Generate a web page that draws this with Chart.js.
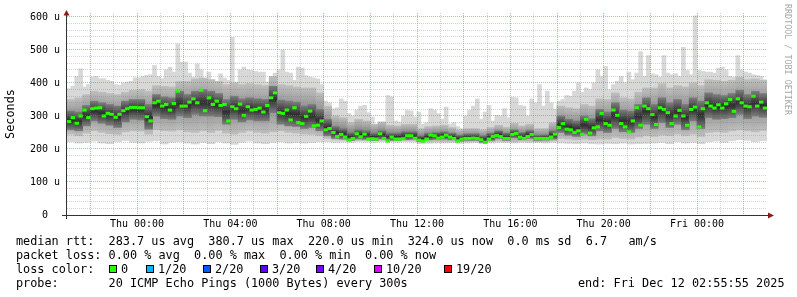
<!DOCTYPE html>
<html>
<head>
<meta charset="utf-8">
<title>SmokePing latency</title>
<script src="https://cdn.jsdelivr.net/npm/chart.js@4.4.1/dist/chart.umd.min.js"></script>
<style>
  html, body { margin:0; padding:0; background:#ffffff; }
  #wrap { position:relative; width:797px; height:297px; overflow:hidden; background:#ffffff; }
  #chart { position:absolute; left:0; top:0; }
  .lg { position:absolute; font-family:"DejaVu Sans Mono", monospace; font-size:11.83px; line-height:14px; white-space:pre; color:#000; }
  .sq { position:absolute; top:265px; width:6px; height:6px; border:1px solid #000; }
  #wm { position:absolute; left:783px; top:4px; writing-mode:vertical-rl; font-family:"DejaVu Sans Mono", monospace; font-size:8.4px; line-height:9px; color:#a8a8a8; white-space:pre; }
</style>
</head>
<body>
<div id="wrap">
  <canvas id="chart" width="797" height="297"></canvas>
  <div id="wm">RRDTOOL / TOBI OETIKER</div>
  <div class="lg" style="left:16px;top:234px">median rtt:  283.7 us avg  380.7 us max  220.0 us min  324.0 us now  0.0 ms sd  6.7   am/s</div>
  <div class="lg" style="left:16px;top:248px">packet loss: 0.00 % avg  0.00 % max  0.00 % min  0.00 % now</div>
  <div class="lg" style="left:16px;top:262px">loss color:</div>
  <div id="loss"></div>
  <div class="lg" style="left:16px;top:276px">probe:       20 ICMP Echo Pings (1000 Bytes) every 300s</div>
  <div class="lg" style="left:578px;top:276px">end: Fri Dec 12 02:55:55 2025</div>
</div>
<script>
// ---- time frame (hours relative to Thu 00:00) ----
const START_H = -3;      // Wed 21:00
const END_H = 27;        // Fri 03:00
const STEP10 = 1 / 6;    // 10-minute samples
const STEP20 = 1 / 3;    // 20-minute samples

// ---- tick labels ----
const xTickHours  = [0, 4, 8, 12, 16, 20, 24];
const xTickLabels = ['Thu 00:00','Thu 04:00','Thu 08:00','Thu 12:00','Thu 16:00','Thu 20:00','Fri 00:00'];
const yTickValues = [0, 100, 200, 300, 400, 500, 600];
const yTickLabels = ['0  ', '100 u', '200 u', '300 u', '400 u', '500 u', '600 u'];

// ---- loss colour legend ----
const lossLabels = ['0', '1/20', '2/20', '3/20', '4/20', '10/20', '19/20'];
const lossColors = ['#26ff00', '#00b8ff', '#0059ff', '#5e00ff', '#7e00ff', '#dd00ff', '#ff0000'];

// ---- median rtt, 10-minute steps (microseconds) ----
const median = [
  283,295,278,300,318,295,322,324,325,300, 308,305,296,305,316,322,326,326,325,325, 298,285,340,345,330,335,318,338,375,330,
  330,342,352,340,378,316,355,335,345,332, 335,285,328,322,336,302,328,318,320,324, 312,332,355,370,310,308,318,288,325,280,
  277,299,315,270,272,285,258,262,250,238, 244,236,227,232,246,237,245,230,231,230, 246,232,224,236,230,230,231,240,240,232,
  227,224,230,242,240,233,236,242,236,232, 224,230,232,232,233,232,228,220,230,238, 241,238,232,232,244,247,236,232,238,244,
  232,232,232,232,236,245,265,277,260,258, 250,255,244,290,248,264,267,308,277,272, 318,302,277,267,252,285,325,272,330,322,
  304,274,325,320,310,277,300,317,300,272, 320,327,267,322,340,330,324,334,324,337, 350,314,352,340,330,328,360,330,342,324
];

// ---- highest ping per 10-minute step (us) ----
const smokeHi = [
  383,390,420,443,388,395,418,420,413,413, 408,405,395,393,400,403,405,416,416,420, 423,425,453,420,413,440,448,433,518,463,
  463,430,418,458,440,408,433,410,393,428, 415,408,538,403,440,448,440,438,435,433, 433,403,400,430,440,500,433,430,408,448,
  445,422,418,415,412,395,345,340,322,325, 352,345,307,300,318,330,332,310,297,275, 270,280,362,358,285,282,300,317,315,297,
  312,275,280,322,318,307,290,327,275,280, 268,262,300,317,330,352,290,312,332,285, 302,300,322,295,357,355,332,330,300,352,
  340,395,330,375,340,320,345,350,362,360, 375,400,372,385,380,400,440,420,450,380, 395,405,420,400,433,410,430,495,420,483,
  428,425,418,483,430,425,428,420,508,438, 425,603,438,435,433,433,430,445,448,440, 420,418,483,440,433,430,425,423,420,410
];

// ---- 20-minute smoke bands (us) ----
const smokeLo = [
  222,218,220,224,218,216,222,226,220,218,223,225,215,220,222,
  218,215,220,216,222,218,214,220,224,218,216,220,222,218,220,
  218,220,222,222,220,221,220,222,221,220,222,221,220,222,221,
  216,217,218,218,219,217,218,219,216,218,220,219,218,220,219,
  219,218,220,218,217,216,218,216,215,217,216,218,215,216,217,
  218,220,216,222,218,220,216,222,224,220,225,228,226,222,225
];
const midLo = [
  245,240,248,255,250,246,244,252,255,254,245,258,255,254,258,
  252,250,255,250,256,248,245,250,255,250,248,252,255,250,248,
  245,244,240,232,228,227,225,226,226,225,226,225,225,226,226,
  221,222,223,222,223,221,222,223,220,222,224,223,222,224,223,
  222,222,224,232,230,228,230,228,230,230,235,232,230,236,240,
  238,242,240,245,240,245,238,250,252,250,255,258,255,252,256
];
const midHi = [
  350,355,365,375,372,368,365,372,378,380,375,392,390,388,405,
  405,412,415,410,405,395,400,395,398,395,392,420,395,392,388,
  385,385,370,330,300,295,280,290,285,275,282,272,270,275,275,
  262,268,270,272,265,258,262,262,258,265,272,266,278,270,275,
  262,262,280,330,325,322,335,330,352,350,370,355,352,372,385,
  385,398,385,392,388,400,392,410,408,405,408,418,410,412,408
];
const innerLo = [
  258,255,270,285,278,272,265,282,290,288,260,300,292,290,300,
  295,305,300,300,298,275,290,282,288,285,285,310,275,270,268,
  262,265,255,240,232,230,226,230,229,226,230,226,226,228,229,
  223,228,229,230,228,224,226,226,220,226,232,226,234,228,232,
  226,227,230,250,242,238,245,240,255,250,262,252,250,262,275,
  262,280,265,275,258,285,262,295,290,292,295,305,292,300,296
];
const innerHi = [
  315,312,332,345,340,335,330,345,350,350,335,365,358,355,375,
  365,375,380,375,368,350,360,352,355,352,350,390,348,345,342,
  330,335,320,290,268,262,250,258,255,248,255,248,248,252,252,
  240,248,250,252,248,242,246,246,240,248,255,248,258,250,256,
  242,243,255,300,290,285,300,292,320,312,340,318,315,335,355,
  335,355,340,350,335,355,345,370,365,362,368,378,365,375,368
];

// ---- legend squares (layout) ----
const lossX = [121, 158, 215, 272, 328, 386, 456];
const lossBox = document.getElementById('loss');
lossLabels.forEach((lab, k) => {
  const sq = document.createElement('div');
  sq.className = 'sq';
  sq.style.left = (lossX[k] - 12) + 'px';
  sq.style.background = lossColors[k];
  lossBox.appendChild(sq);
  const t = document.createElement('div');
  t.className = 'lg';
  t.style.left = lossX[k] + 'px';
  t.style.top = '262px';
  t.textContent = lab;
  lossBox.appendChild(t);
});

// ---- build library data ----
const x10 = i => START_H + (i + 0.5) * STEP10;
const x20 = j => START_H + (j + 0.5) * STEP20;
const outerData = smokeHi.map((hi, i) => ({ x: x10(i), y: [smokeLo[Math.floor(i / 2)], hi] }));
const midData = midLo.map((lo, j) => ({ x: x20(j), y: [lo, midHi[j]] }));
const innerData = innerLo.map((lo, j) => ({ x: x20(j), y: [lo, innerHi[j]] }));
const medData = median.map((v, i) => ({ x: x10(i), y: v }));

const MAJOR = 'rgba(228,70,70,0.5)';
const MINOR = 'rgba(130,130,130,0.35)';
const MONO = '"DejaVu Sans Mono", monospace';

// vertical shading of a smoke band: lighter at its edges, darker in its middle
const bandFill = (edge, core) => c => {
  const raw = c.raw;
  if (!raw || !Array.isArray(raw.y) || !c.chart.scales || !c.chart.scales.y) return edge;
  const ys = c.chart.scales.y;
  const p0 = ys.getPixelForValue(raw.y[0]);
  const p1 = ys.getPixelForValue(raw.y[1]);
  if (!isFinite(p0) || !isFinite(p1) || Math.abs(p0 - p1) < 1) return core;
  const g = c.chart.ctx.createLinearGradient(0, p0, 0, p1);
  g.addColorStop(0, edge);
  g.addColorStop(0.5, core);
  g.addColorStop(1, edge);
  return g;
};

const axisPlugin = {
  id: 'rrdAxes',
  afterDraw(chart) {
    const { ctx, chartArea: a } = chart;
    ctx.save();
    ctx.strokeStyle = '#333333';
    ctx.lineWidth = 1;
    ctx.beginPath();
    ctx.moveTo(a.left - 5, a.bottom + 0.5);
    ctx.lineTo(a.right + 2, a.bottom + 0.5);
    ctx.moveTo(a.left - 0.5, a.bottom + 4);
    ctx.lineTo(a.left - 0.5, a.top + 2);
    ctx.stroke();
    ctx.fillStyle = '#8b1a1a';
    ctx.beginPath();
    ctx.moveTo(a.right + 1, a.bottom - 2.5);
    ctx.lineTo(a.right + 7, a.bottom + 0.5);
    ctx.lineTo(a.right + 1, a.bottom + 3.5);
    ctx.closePath();
    ctx.fill();
    ctx.beginPath();
    ctx.moveTo(a.left - 3.5, a.top + 2.5);
    ctx.lineTo(a.left - 0.5, a.top - 3);
    ctx.lineTo(a.left + 2.5, a.top + 2.5);
    ctx.closePath();
    ctx.fill();
    ctx.restore();
  }
};

Chart.defaults.font.family = MONO;

new Chart(document.getElementById('chart'), {
  type: 'bar',
  data: {
    datasets: [
      { label: 'smoke outer', data: outerData, backgroundColor: '#d8d8d8', borderWidth: 0,
        barThickness: 4.0, grouped: false, order: 4, clip: 0 },
      { label: 'smoke mid', data: midData, backgroundColor: bandFill('#bebebe', '#8a8a8a'), borderWidth: 0,
        barThickness: 7.9, grouped: false, order: 3, clip: 0 },
      { label: 'smoke inner', data: innerData, backgroundColor: bandFill('#7c7c7c', '#2e2e2e'), borderWidth: 0,
        barThickness: 7.9, grouped: false, order: 2, clip: 0 },
      { type: 'line', label: 'median rtt', data: medData, showLine: false,
        pointStyle: 'line', pointRadius: 2.2, pointHoverRadius: 2.2, pointBorderWidth: 3,
        pointBorderColor: '#26ff00', pointBackgroundColor: '#26ff00', borderColor: '#26ff00',
        order: 1, clip: 0 }
    ]
  },
  options: {
    responsive: false,
    animation: false,
    events: [],
    layout: { padding: { left: 0, right: 30, top: 11, bottom: 0 } },
    plugins: { legend: { display: false }, tooltip: { enabled: false } },
    scales: {
      x: {
        type: 'linear', min: START_H, max: END_H, offset: false,
        afterBuildTicks: s => { const t = []; for (let h = START_H + 1; h < END_H; h++) t.push({ value: h }); s.ticks = t; },
        afterFit: s => { s.height = 82; },
        grid: { z: 1, offset: false, drawTicks: false, lineWidth: 1,
                color: c => (c.tick && c.tick.value % 2 === 0) ? MAJOR : MINOR },
        border: { display: false, dash: [1, 1] },
        ticks: { autoSkip: false, maxRotation: 0, minRotation: 0, padding: 3, color: '#000',
                 font: { family: MONO, size: 10 },
                 callback: v => { const k = xTickHours.indexOf(v); return k >= 0 ? xTickLabels[k] : ''; } }
      },
      y: {
        type: 'linear', min: 0, max: 612,
        afterBuildTicks: s => { const t = []; for (let v = 0; v <= 600; v += 20) t.push({ value: v }); s.ticks = t; },
        afterFit: s => { s.width = 67; },
        grid: { z: 1, drawTicks: false, lineWidth: 1,
                color: c => { const v = c.tick ? c.tick.value : 0; return v === 0 ? 'rgba(0,0,0,0)' : (v % 100 === 0 ? MAJOR : MINOR); } },
        border: { display: false, dash: [1, 1] },
        title: { display: true, text: 'Seconds', color: '#000', font: { family: MONO, size: 11.83 }, padding: { top: 4, bottom: 4 } },
        ticks: { autoSkip: false, padding: 7, color: '#000', font: { family: MONO, size: 10 },
                 callback: v => { const k = yTickValues.indexOf(v); return k >= 0 ? yTickLabels[k] : ''; } }
      }
    }
  },
  plugins: [axisPlugin]
});
</script>
</body>
</html>
